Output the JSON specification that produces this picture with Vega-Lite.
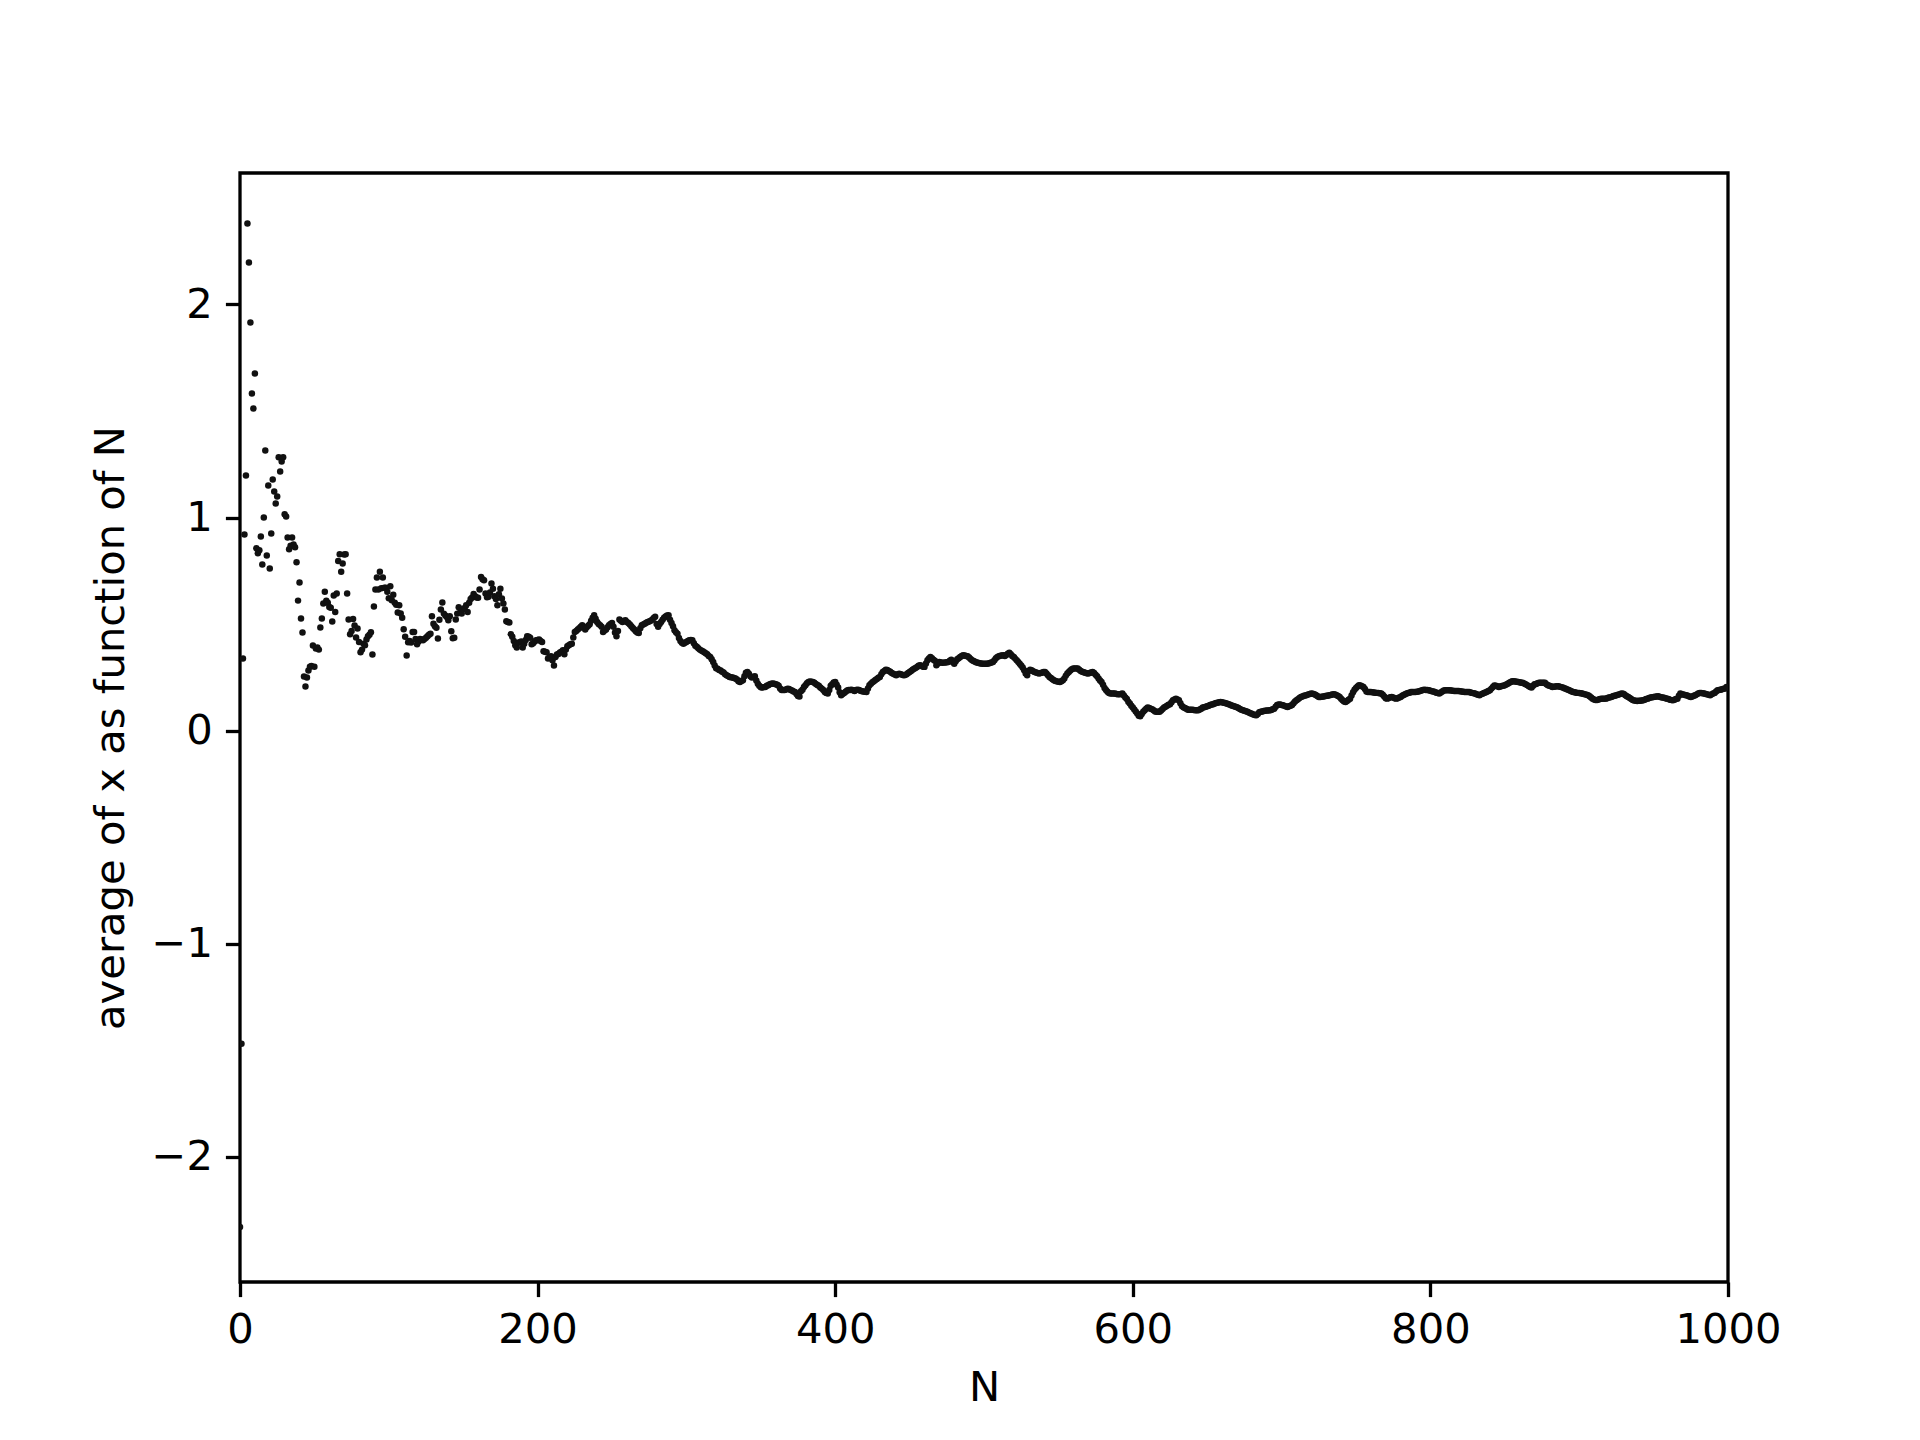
{
  "$schema": "https://vega.github.io/schema/vega-lite/v6.json",
  "width": 1488,
  "height": 1109,
  "autosize": {"type": "none"},
  "padding": {"left": 240, "top": 173, "right": 192, "bottom": 158},
  "background": "white",
  "config": {
    "font": "DejaVu Sans",
    "view": {"stroke": "black", "strokeWidth": 3.3},
    "axis": {
      "grid": false, "domain": false,
      "tickColor": "black", "tickWidth": 3.3, "tickSize": 14.6,
      "labelFont": "DejaVu Sans", "labelFontSize": 41.7, "labelColor": "black",
      "labelPadding": 13, "labelOverlap": false, "labelBound": false, "labelFlush": false,
      "titleFont": "DejaVu Sans", "titleFontSize": 41.7, "titleFontWeight": "normal", "titleColor": "black"
    }
  },
  "data": {"values": [
    {"N":0,"y":-2.33},{"N":1,"y":-1.47},{"N":2,"y":0.338},{"N":3,"y":0.92},{"N":4,"y":1.197},{"N":5,"y":2.38},{"N":6,"y":2.197},{"N":7,"y":1.915},{"N":8,"y":1.582},{"N":9,"y":1.512},
    {"N":10,"y":1.676},{"N":11,"y":0.856},{"N":12,"y":0.832},{"N":13,"y":0.846},{"N":14,"y":0.911},{"N":15,"y":0.779},{"N":16,"y":1.0},{"N":17,"y":1.315},{"N":18,"y":0.822},{"N":19,"y":1.15},
    {"N":20,"y":0.761},{"N":21,"y":0.925},{"N":22,"y":1.178},{"N":23,"y":1.122},{"N":24,"y":1.066},{"N":25,"y":1.099},{"N":26,"y":1.283},{"N":27,"y":1.216},{"N":28,"y":1.263},{"N":29,"y":1.283},
    {"N":30,"y":1.015},{"N":31,"y":1.005},{"N":32,"y":0.906},{"N":33,"y":0.851},{"N":34,"y":0.868},{"N":35,"y":0.906},{"N":36,"y":0.874},{"N":37,"y":0.86},{"N":38,"y":0.79},{"N":39,"y":0.61},
    {"N":40,"y":0.695},{"N":41,"y":0.526},{"N":42,"y":0.46},{"N":43,"y":0.254},{"N":44,"y":0.207},{"N":45,"y":0.249},{"N":46,"y":0.282},{"N":47,"y":0.3},{"N":48,"y":0.303},{"N":49,"y":0.399},
    {"N":50,"y":0.3},{"N":51,"y":0.385},{"N":52,"y":0.39},{"N":53,"y":0.38},{"N":54,"y":0.484},{"N":55,"y":0.526},{"N":56,"y":0.596},{"N":57,"y":0.652},{"N":58,"y":0.61},{"N":59,"y":0.6},
    {"N":60,"y":0.58},{"N":61,"y":0.577},{"N":62,"y":0.512},{"N":63,"y":0.634},{"N":64,"y":0.557},{"N":65,"y":0.643},{"N":66,"y":0.796},{"N":67,"y":0.828},{"N":68,"y":0.746},{"N":69,"y":0.784},
    {"N":70,"y":0.826},{"N":71,"y":0.828},{"N":72,"y":0.643},{"N":73,"y":0.521},{"N":74,"y":0.452},{"N":75,"y":0.468},{"N":76,"y":0.524},{"N":77,"y":0.493},{"N":78,"y":0.437},{"N":79,"y":0.479},
    {"N":80,"y":0.416},{"N":81,"y":0.368},{"N":82,"y":0.38},{"N":83,"y":0.408},{"N":84,"y":0.4},{"N":85,"y":0.427},{"N":86,"y":0.443},{"N":87,"y":0.45},{"N":88,"y":0.462},{"N":89,"y":0.357},
    {"N":90,"y":0.582},{"N":91,"y":0.662},{"N":92,"y":0.718},{"N":93,"y":0.662},{"N":94,"y":0.746},{"N":95,"y":0.668},{"N":96,"y":0.718},{"N":97,"y":0.67},{"N":98,"y":0.671},{"N":99,"y":0.652},
    {"N":100,"y":0.621},{"N":101,"y":0.677},{"N":102,"y":0.612},{"N":103,"y":0.638},{"N":104,"y":0.6},{"N":105,"y":0.591},{"N":106,"y":0.554},{"N":107,"y":0.588},{"N":108,"y":0.55},{"N":109,"y":0.53},
    {"N":110,"y":0.476},{"N":111,"y":0.44},{"N":112,"y":0.352},{"N":113,"y":0.415},{"N":114,"y":0.42},{"N":115,"y":0.413},{"N":116,"y":0.463},{"N":117,"y":0.463},{"N":118,"y":0.43},{"N":119,"y":0.405},
    {"N":120,"y":0.418},{"N":121,"y":0.43},{"N":122,"y":0.428},{"N":123,"y":0.424},{"N":124,"y":0.43},{"N":125,"y":0.436},{"N":126,"y":0.443},{"N":127,"y":0.45},{"N":128,"y":0.455},{"N":129,"y":0.537},
    {"N":130,"y":0.502},{"N":131,"y":0.49},{"N":132,"y":0.483},{"N":133,"y":0.432},{"N":134,"y":0.52},{"N":135,"y":0.568},{"N":136,"y":0.601},{"N":137,"y":0.549},{"N":138,"y":0.54},{"N":139,"y":0.533},
    {"N":140,"y":0.518},{"N":141,"y":0.537},{"N":142,"y":0.466},{"N":143,"y":0.433},{"N":144,"y":0.436},{"N":145,"y":0.521},{"N":146,"y":0.549},{"N":147,"y":0.579},{"N":148,"y":0.554},{"N":149,"y":0.549},
    {"N":150,"y":0.57},{"N":151,"y":0.575},{"N":152,"y":0.588},{"N":153,"y":0.557},{"N":154,"y":0.6},{"N":155,"y":0.618},{"N":156,"y":0.625},{"N":157,"y":0.641},{"N":158,"y":0.63},{"N":159,"y":0.625},
    {"N":160,"y":0.623},{"N":161,"y":0.662},{"N":162,"y":0.721},{"N":163,"y":0.71},{"N":164,"y":0.706},{"N":165,"y":0.643},{"N":166,"y":0.626},{"N":167,"y":0.628},{"N":168,"y":0.648},{"N":169,"y":0.69},
    {"N":170,"y":0.666},{"N":171,"y":0.63},{"N":172,"y":0.618},{"N":173,"y":0.588},{"N":174,"y":0.64},{"N":175,"y":0.666},{"N":176,"y":0.62},{"N":177,"y":0.596},{"N":178,"y":0.568},{"N":179,"y":0.513},
    {"N":180,"y":0.51},{"N":181,"y":0.507},{"N":182,"y":0.452},{"N":183,"y":0.44},{"N":184,"y":0.42},{"N":185,"y":0.4},{"N":186,"y":0.39},{"N":187,"y":0.412},{"N":188,"y":0.415},{"N":189,"y":0.418},
    {"N":190,"y":0.39},{"N":191,"y":0.408},{"N":192,"y":0.425},{"N":193,"y":0.443},{"N":194,"y":0.44},{"N":195,"y":0.436},{"N":196,"y":0.405},{"N":197,"y":0.41},{"N":198,"y":0.418},{"N":199,"y":0.424},
    {"N":200,"y":0.425},{"N":201,"y":0.427},{"N":202,"y":0.42},{"N":203,"y":0.416},{"N":204,"y":0.372},{"N":205,"y":0.37},{"N":206,"y":0.368},{"N":207,"y":0.338},{"N":208,"y":0.343},{"N":209,"y":0.349},
    {"N":210,"y":0.33},{"N":211,"y":0.305},{"N":212,"y":0.345},{"N":213,"y":0.357},{"N":214,"y":0.36},{"N":215,"y":0.366},{"N":216,"y":0.37},{"N":217,"y":0.377},{"N":218,"y":0.358},{"N":219,"y":0.38},
    {"N":220,"y":0.396},{"N":221,"y":0.4},{"N":222,"y":0.405},{"N":223,"y":0.408},{"N":224,"y":0.437},{"N":225,"y":0.463},{"N":226,"y":0.468},{"N":227,"y":0.474},{"N":228,"y":0.48},{"N":229,"y":0.487},
    {"N":230,"y":0.494},{"N":231,"y":0.484},{"N":232,"y":0.474},{"N":233,"y":0.485},{"N":234,"y":0.492},{"N":235,"y":0.499},{"N":236,"y":0.515},{"N":237,"y":0.53},{"N":238,"y":0.541},{"N":239,"y":0.525},
    {"N":240,"y":0.51},{"N":241,"y":0.5},{"N":242,"y":0.495},{"N":243,"y":0.487},{"N":244,"y":0.463},{"N":245,"y":0.47},{"N":246,"y":0.474},{"N":247,"y":0.485},{"N":248,"y":0.494},{"N":249,"y":0.5},
    {"N":250,"y":0.505},{"N":251,"y":0.487},{"N":252,"y":0.46},{"N":253,"y":0.443},{"N":254,"y":0.468},{"N":255,"y":0.521},{"N":256,"y":0.515},{"N":257,"y":0.51},{"N":258,"y":0.514},{"N":259,"y":0.518},
    {"N":260,"y":0.51},{"N":261,"y":0.505},{"N":262,"y":0.498},{"N":263,"y":0.49},{"N":264,"y":0.482},{"N":265,"y":0.474},{"N":266,"y":0.466},{"N":267,"y":0.46},{"N":268,"y":0.458},{"N":269,"y":0.48},
    {"N":270,"y":0.494},{"N":271,"y":0.498},{"N":272,"y":0.502},{"N":273,"y":0.506},{"N":274,"y":0.51},{"N":275,"y":0.512},{"N":276,"y":0.515},{"N":277,"y":0.52},{"N":278,"y":0.528},{"N":279,"y":0.534},
    {"N":280,"y":0.5},{"N":281,"y":0.487},{"N":282,"y":0.5},{"N":283,"y":0.51},{"N":284,"y":0.52},{"N":285,"y":0.53},{"N":286,"y":0.536},{"N":287,"y":0.54},{"N":288,"y":0.541},{"N":289,"y":0.52},
    {"N":290,"y":0.505},{"N":291,"y":0.49},{"N":292,"y":0.471},{"N":293,"y":0.462},{"N":294,"y":0.455},{"N":295,"y":0.435},{"N":296,"y":0.42},{"N":297,"y":0.412},{"N":298,"y":0.408},{"N":299,"y":0.412},
    {"N":300,"y":0.416},{"N":301,"y":0.42},{"N":302,"y":0.424},{"N":303,"y":0.425},{"N":304,"y":0.424},{"N":305,"y":0.41},{"N":306,"y":0.398},{"N":307,"y":0.393},{"N":308,"y":0.386},{"N":309,"y":0.38},
    {"N":310,"y":0.376},{"N":311,"y":0.372},{"N":312,"y":0.368},{"N":313,"y":0.363},{"N":314,"y":0.358},{"N":315,"y":0.35},{"N":316,"y":0.346},{"N":317,"y":0.335},{"N":318,"y":0.322},{"N":319,"y":0.305},
    {"N":320,"y":0.293},{"N":321,"y":0.29},{"N":322,"y":0.284},{"N":323,"y":0.282},{"N":324,"y":0.276},{"N":325,"y":0.273},{"N":326,"y":0.265},{"N":327,"y":0.26},{"N":328,"y":0.256},{"N":329,"y":0.252},
    {"N":330,"y":0.25},{"N":331,"y":0.249},{"N":332,"y":0.247},{"N":333,"y":0.245},{"N":334,"y":0.24},{"N":335,"y":0.232},{"N":336,"y":0.228},{"N":337,"y":0.233},{"N":338,"y":0.236},{"N":339,"y":0.255},
    {"N":340,"y":0.272},{"N":341,"y":0.275},{"N":342,"y":0.267},{"N":343,"y":0.255},{"N":344,"y":0.249},{"N":345,"y":0.252},{"N":346,"y":0.255},{"N":347,"y":0.235},{"N":348,"y":0.22},{"N":349,"y":0.21},
    {"N":350,"y":0.203},{"N":351,"y":0.202},{"N":352,"y":0.204},{"N":353,"y":0.205},{"N":354,"y":0.21},{"N":355,"y":0.213},{"N":356,"y":0.217},{"N":357,"y":0.22},{"N":358,"y":0.221},{"N":359,"y":0.22},
    {"N":360,"y":0.218},{"N":361,"y":0.215},{"N":362,"y":0.21},{"N":363,"y":0.198},{"N":364,"y":0.19},{"N":365,"y":0.19},{"N":366,"y":0.19},{"N":367,"y":0.193},{"N":368,"y":0.197},{"N":369,"y":0.195},
    {"N":370,"y":0.19},{"N":371,"y":0.188},{"N":372,"y":0.184},{"N":373,"y":0.181},{"N":374,"y":0.172},{"N":375,"y":0.162},{"N":376,"y":0.16},{"N":377,"y":0.185},{"N":378,"y":0.192},{"N":379,"y":0.205},
    {"N":380,"y":0.213},{"N":381,"y":0.222},{"N":382,"y":0.228},{"N":383,"y":0.23},{"N":384,"y":0.229},{"N":385,"y":0.228},{"N":386,"y":0.224},{"N":387,"y":0.219},{"N":388,"y":0.214},{"N":389,"y":0.21},
    {"N":390,"y":0.202},{"N":391,"y":0.197},{"N":392,"y":0.19},{"N":393,"y":0.181},{"N":394,"y":0.177},{"N":395,"y":0.174},{"N":396,"y":0.19},{"N":397,"y":0.21},{"N":398,"y":0.218},{"N":399,"y":0.226},
    {"N":400,"y":0.228},{"N":401,"y":0.215},{"N":402,"y":0.202},{"N":403,"y":0.18},{"N":404,"y":0.166},{"N":405,"y":0.172},{"N":406,"y":0.177},{"N":407,"y":0.182},{"N":408,"y":0.188},{"N":409,"y":0.19},
    {"N":410,"y":0.191},{"N":411,"y":0.192},{"N":412,"y":0.189},{"N":413,"y":0.186},{"N":414,"y":0.19},{"N":415,"y":0.192},{"N":416,"y":0.19},{"N":417,"y":0.187},{"N":418,"y":0.185},{"N":419,"y":0.184},
    {"N":420,"y":0.182},{"N":421,"y":0.181},{"N":422,"y":0.198},{"N":423,"y":0.213},{"N":424,"y":0.22},{"N":425,"y":0.227},{"N":426,"y":0.232},{"N":427,"y":0.237},{"N":428,"y":0.242},{"N":429,"y":0.248},
    {"N":430,"y":0.252},{"N":431,"y":0.265},{"N":432,"y":0.275},{"N":433,"y":0.28},{"N":434,"y":0.286},{"N":435,"y":0.284},{"N":436,"y":0.28},{"N":437,"y":0.276},{"N":438,"y":0.27},{"N":439,"y":0.267},
    {"N":440,"y":0.263},{"N":441,"y":0.26},{"N":442,"y":0.264},{"N":443,"y":0.267},{"N":444,"y":0.265},{"N":445,"y":0.262},{"N":446,"y":0.26},{"N":447,"y":0.261},{"N":448,"y":0.265},{"N":449,"y":0.27},
    {"N":450,"y":0.275},{"N":451,"y":0.28},{"N":452,"y":0.286},{"N":453,"y":0.29},{"N":454,"y":0.294},{"N":455,"y":0.299},{"N":456,"y":0.304},{"N":457,"y":0.307},{"N":458,"y":0.304},{"N":459,"y":0.3},
    {"N":460,"y":0.299},{"N":461,"y":0.315},{"N":462,"y":0.33},{"N":463,"y":0.338},{"N":464,"y":0.346},{"N":465,"y":0.34},{"N":466,"y":0.333},{"N":467,"y":0.328},{"N":468,"y":0.307},{"N":469,"y":0.315},
    {"N":470,"y":0.322},{"N":471,"y":0.32},{"N":472,"y":0.318},{"N":473,"y":0.319},{"N":474,"y":0.32},{"N":475,"y":0.321},{"N":476,"y":0.322},{"N":477,"y":0.328},{"N":478,"y":0.333},{"N":479,"y":0.322},
    {"N":480,"y":0.314},{"N":481,"y":0.325},{"N":482,"y":0.335},{"N":483,"y":0.34},{"N":484,"y":0.345},{"N":485,"y":0.35},{"N":486,"y":0.354},{"N":487,"y":0.352},{"N":488,"y":0.35},{"N":489,"y":0.349},
    {"N":490,"y":0.343},{"N":491,"y":0.336},{"N":492,"y":0.33},{"N":493,"y":0.327},{"N":494,"y":0.323},{"N":495,"y":0.32},{"N":496,"y":0.318},{"N":497,"y":0.316},{"N":498,"y":0.315},{"N":499,"y":0.314},
    {"N":500,"y":0.314},{"N":501,"y":0.314},{"N":502,"y":0.314},{"N":503,"y":0.315},{"N":504,"y":0.317},{"N":505,"y":0.32},{"N":506,"y":0.322},{"N":507,"y":0.33},{"N":508,"y":0.339},{"N":509,"y":0.346},
    {"N":510,"y":0.349},{"N":511,"y":0.351},{"N":512,"y":0.353},{"N":513,"y":0.354},{"N":514,"y":0.35},{"N":515,"y":0.355},{"N":516,"y":0.361},{"N":517,"y":0.365},{"N":518,"y":0.358},{"N":519,"y":0.35},
    {"N":520,"y":0.345},{"N":521,"y":0.338},{"N":522,"y":0.33},{"N":523,"y":0.322},{"N":524,"y":0.314},{"N":525,"y":0.305},{"N":526,"y":0.296},{"N":527,"y":0.283},{"N":528,"y":0.268},{"N":529,"y":0.26},
    {"N":530,"y":0.28},{"N":531,"y":0.286},{"N":532,"y":0.283},{"N":533,"y":0.279},{"N":534,"y":0.275},{"N":535,"y":0.273},{"N":536,"y":0.27},{"N":537,"y":0.268},{"N":538,"y":0.27},{"N":539,"y":0.272},
    {"N":540,"y":0.275},{"N":541,"y":0.275},{"N":542,"y":0.268},{"N":543,"y":0.26},{"N":544,"y":0.252},{"N":545,"y":0.247},{"N":546,"y":0.241},{"N":547,"y":0.236},{"N":548,"y":0.233},{"N":549,"y":0.231},
    {"N":550,"y":0.229},{"N":551,"y":0.228},{"N":552,"y":0.232},{"N":553,"y":0.236},{"N":554,"y":0.245},{"N":555,"y":0.258},{"N":556,"y":0.268},{"N":557,"y":0.275},{"N":558,"y":0.282},{"N":559,"y":0.288},
    {"N":560,"y":0.291},{"N":561,"y":0.292},{"N":562,"y":0.291},{"N":563,"y":0.291},{"N":564,"y":0.286},{"N":565,"y":0.28},{"N":566,"y":0.276},{"N":567,"y":0.274},{"N":568,"y":0.271},{"N":569,"y":0.269},
    {"N":570,"y":0.268},{"N":571,"y":0.27},{"N":572,"y":0.273},{"N":573,"y":0.275},{"N":574,"y":0.27},{"N":575,"y":0.262},{"N":576,"y":0.255},{"N":577,"y":0.245},{"N":578,"y":0.235},{"N":579,"y":0.228},
    {"N":580,"y":0.215},{"N":581,"y":0.2},{"N":582,"y":0.19},{"N":583,"y":0.182},{"N":584,"y":0.176},{"N":585,"y":0.174},{"N":586,"y":0.174},{"N":587,"y":0.174},{"N":588,"y":0.174},{"N":589,"y":0.172},
    {"N":590,"y":0.171},{"N":591,"y":0.171},{"N":592,"y":0.172},{"N":593,"y":0.174},{"N":594,"y":0.165},{"N":595,"y":0.155},{"N":596,"y":0.148},{"N":597,"y":0.135},{"N":598,"y":0.127},{"N":599,"y":0.117},
    {"N":600,"y":0.108},{"N":601,"y":0.099},{"N":602,"y":0.09},{"N":603,"y":0.08},{"N":604,"y":0.07},{"N":605,"y":0.067},{"N":606,"y":0.078},{"N":607,"y":0.088},{"N":608,"y":0.095},{"N":609,"y":0.102},
    {"N":610,"y":0.108},{"N":611,"y":0.106},{"N":612,"y":0.103},{"N":613,"y":0.1},{"N":614,"y":0.095},{"N":615,"y":0.09},{"N":616,"y":0.088},{"N":617,"y":0.088},{"N":618,"y":0.088},{"N":619,"y":0.094},
    {"N":620,"y":0.101},{"N":621,"y":0.108},{"N":622,"y":0.112},{"N":623,"y":0.117},{"N":624,"y":0.121},{"N":625,"y":0.124},{"N":626,"y":0.133},{"N":627,"y":0.142},{"N":628,"y":0.146},{"N":629,"y":0.15},
    {"N":630,"y":0.146},{"N":631,"y":0.142},{"N":632,"y":0.128},{"N":633,"y":0.115},{"N":634,"y":0.11},{"N":635,"y":0.106},{"N":636,"y":0.102},{"N":637,"y":0.098},{"N":638,"y":0.098},{"N":639,"y":0.098},
    {"N":640,"y":0.098},{"N":641,"y":0.097},{"N":642,"y":0.096},{"N":643,"y":0.095},{"N":644,"y":0.095},{"N":645,"y":0.099},{"N":646,"y":0.103},{"N":647,"y":0.108},{"N":648,"y":0.11},{"N":649,"y":0.112},
    {"N":650,"y":0.114},{"N":651,"y":0.117},{"N":652,"y":0.12},{"N":653,"y":0.122},{"N":654,"y":0.124},{"N":655,"y":0.127},{"N":656,"y":0.129},{"N":657,"y":0.131},{"N":658,"y":0.133},{"N":659,"y":0.134},
    {"N":660,"y":0.133},{"N":661,"y":0.131},{"N":662,"y":0.129},{"N":663,"y":0.127},{"N":664,"y":0.125},{"N":665,"y":0.122},{"N":666,"y":0.119},{"N":667,"y":0.117},{"N":668,"y":0.114},{"N":669,"y":0.112},
    {"N":670,"y":0.11},{"N":671,"y":0.106},{"N":672,"y":0.101},{"N":673,"y":0.098},{"N":674,"y":0.096},{"N":675,"y":0.093},{"N":676,"y":0.091},{"N":677,"y":0.088},{"N":678,"y":0.085},{"N":679,"y":0.081},
    {"N":680,"y":0.079},{"N":681,"y":0.076},{"N":682,"y":0.073},{"N":683,"y":0.072},{"N":684,"y":0.078},{"N":685,"y":0.086},{"N":686,"y":0.088},{"N":687,"y":0.09},{"N":688,"y":0.092},{"N":689,"y":0.093},
    {"N":690,"y":0.094},{"N":691,"y":0.094},{"N":692,"y":0.095},{"N":693,"y":0.097},{"N":694,"y":0.1},{"N":695,"y":0.103},{"N":696,"y":0.112},{"N":697,"y":0.12},{"N":698,"y":0.123},{"N":699,"y":0.122},
    {"N":700,"y":0.12},{"N":701,"y":0.119},{"N":702,"y":0.116},{"N":703,"y":0.113},{"N":704,"y":0.111},{"N":705,"y":0.114},{"N":706,"y":0.117},{"N":707,"y":0.12},{"N":708,"y":0.128},{"N":709,"y":0.136},
    {"N":710,"y":0.142},{"N":711,"y":0.147},{"N":712,"y":0.153},{"N":713,"y":0.158},{"N":714,"y":0.16},{"N":715,"y":0.163},{"N":716,"y":0.165},{"N":717,"y":0.167},{"N":718,"y":0.17},{"N":719,"y":0.172},
    {"N":720,"y":0.174},{"N":721,"y":0.173},{"N":722,"y":0.171},{"N":723,"y":0.167},{"N":724,"y":0.162},{"N":725,"y":0.158},{"N":726,"y":0.158},{"N":727,"y":0.159},{"N":728,"y":0.16},{"N":729,"y":0.161},
    {"N":730,"y":0.163},{"N":731,"y":0.164},{"N":732,"y":0.166},{"N":733,"y":0.167},{"N":734,"y":0.169},{"N":735,"y":0.171},{"N":736,"y":0.17},{"N":737,"y":0.166},{"N":738,"y":0.162},{"N":739,"y":0.158},
    {"N":740,"y":0.15},{"N":741,"y":0.142},{"N":742,"y":0.136},{"N":743,"y":0.134},{"N":744,"y":0.139},{"N":745,"y":0.145},{"N":746,"y":0.15},{"N":747,"y":0.165},{"N":748,"y":0.18},{"N":749,"y":0.192},
    {"N":750,"y":0.2},{"N":751,"y":0.207},{"N":752,"y":0.213},{"N":753,"y":0.212},{"N":754,"y":0.208},{"N":755,"y":0.205},{"N":756,"y":0.195},{"N":757,"y":0.183},{"N":758,"y":0.181},{"N":759,"y":0.181},
    {"N":760,"y":0.181},{"N":761,"y":0.18},{"N":762,"y":0.179},{"N":763,"y":0.178},{"N":764,"y":0.177},{"N":765,"y":0.176},{"N":766,"y":0.175},{"N":767,"y":0.174},{"N":768,"y":0.168},{"N":769,"y":0.16},
    {"N":770,"y":0.152},{"N":771,"y":0.15},{"N":772,"y":0.153},{"N":773,"y":0.156},{"N":774,"y":0.158},{"N":775,"y":0.155},{"N":776,"y":0.152},{"N":777,"y":0.15},{"N":778,"y":0.152},{"N":779,"y":0.155},
    {"N":780,"y":0.158},{"N":781,"y":0.163},{"N":782,"y":0.167},{"N":783,"y":0.171},{"N":784,"y":0.174},{"N":785,"y":0.176},{"N":786,"y":0.178},{"N":787,"y":0.181},{"N":788,"y":0.181},{"N":789,"y":0.181},
    {"N":790,"y":0.181},{"N":791,"y":0.182},{"N":792,"y":0.184},{"N":793,"y":0.186},{"N":794,"y":0.188},{"N":795,"y":0.19},{"N":796,"y":0.192},{"N":797,"y":0.191},{"N":798,"y":0.19},{"N":799,"y":0.189},
    {"N":800,"y":0.187},{"N":801,"y":0.185},{"N":802,"y":0.183},{"N":803,"y":0.181},{"N":804,"y":0.178},{"N":805,"y":0.176},{"N":806,"y":0.174},{"N":807,"y":0.179},{"N":808,"y":0.184},{"N":809,"y":0.188},
    {"N":810,"y":0.189},{"N":811,"y":0.189},{"N":812,"y":0.189},{"N":813,"y":0.189},{"N":814,"y":0.188},{"N":815,"y":0.187},{"N":816,"y":0.186},{"N":817,"y":0.186},{"N":818,"y":0.186},{"N":819,"y":0.186},
    {"N":820,"y":0.185},{"N":821,"y":0.184},{"N":822,"y":0.182},{"N":823,"y":0.181},{"N":824,"y":0.181},{"N":825,"y":0.181},{"N":826,"y":0.181},{"N":827,"y":0.179},{"N":828,"y":0.177},{"N":829,"y":0.175},
    {"N":830,"y":0.174},{"N":831,"y":0.171},{"N":832,"y":0.168},{"N":833,"y":0.166},{"N":834,"y":0.17},{"N":835,"y":0.173},{"N":836,"y":0.176},{"N":837,"y":0.179},{"N":838,"y":0.182},{"N":839,"y":0.186},
    {"N":840,"y":0.189},{"N":841,"y":0.197},{"N":842,"y":0.205},{"N":843,"y":0.212},{"N":844,"y":0.211},{"N":845,"y":0.208},{"N":846,"y":0.205},{"N":847,"y":0.207},{"N":848,"y":0.209},{"N":849,"y":0.211},
    {"N":850,"y":0.213},{"N":851,"y":0.216},{"N":852,"y":0.22},{"N":853,"y":0.224},{"N":854,"y":0.228},{"N":855,"y":0.232},{"N":856,"y":0.232},{"N":857,"y":0.23},{"N":858,"y":0.229},{"N":859,"y":0.228},
    {"N":860,"y":0.227},{"N":861,"y":0.225},{"N":862,"y":0.224},{"N":863,"y":0.221},{"N":864,"y":0.217},{"N":865,"y":0.213},{"N":866,"y":0.209},{"N":867,"y":0.205},{"N":868,"y":0.202},{"N":869,"y":0.21},
    {"N":870,"y":0.217},{"N":871,"y":0.219},{"N":872,"y":0.222},{"N":873,"y":0.224},{"N":874,"y":0.224},{"N":875,"y":0.224},{"N":876,"y":0.224},{"N":877,"y":0.224},{"N":878,"y":0.218},{"N":879,"y":0.213},
    {"N":880,"y":0.21},{"N":881,"y":0.208},{"N":882,"y":0.205},{"N":883,"y":0.206},{"N":884,"y":0.207},{"N":885,"y":0.208},{"N":886,"y":0.208},{"N":887,"y":0.206},{"N":888,"y":0.204},{"N":889,"y":0.202},
    {"N":890,"y":0.199},{"N":891,"y":0.196},{"N":892,"y":0.193},{"N":893,"y":0.19},{"N":894,"y":0.187},{"N":895,"y":0.184},{"N":896,"y":0.181},{"N":897,"y":0.18},{"N":898,"y":0.178},{"N":899,"y":0.177},
    {"N":900,"y":0.176},{"N":901,"y":0.175},{"N":902,"y":0.174},{"N":903,"y":0.172},{"N":904,"y":0.17},{"N":905,"y":0.168},{"N":906,"y":0.166},{"N":907,"y":0.161},{"N":908,"y":0.155},{"N":909,"y":0.15},
    {"N":910,"y":0.146},{"N":911,"y":0.143},{"N":912,"y":0.143},{"N":913,"y":0.146},{"N":914,"y":0.148},{"N":915,"y":0.15},{"N":916,"y":0.15},{"N":917,"y":0.15},{"N":918,"y":0.15},{"N":919,"y":0.153},
    {"N":920,"y":0.155},{"N":921,"y":0.157},{"N":922,"y":0.159},{"N":923,"y":0.162},{"N":924,"y":0.164},{"N":925,"y":0.166},{"N":926,"y":0.168},{"N":927,"y":0.17},{"N":928,"y":0.173},{"N":929,"y":0.174},
    {"N":930,"y":0.172},{"N":931,"y":0.166},{"N":932,"y":0.161},{"N":933,"y":0.158},{"N":934,"y":0.153},{"N":935,"y":0.148},{"N":936,"y":0.143},{"N":937,"y":0.141},{"N":938,"y":0.14},{"N":939,"y":0.139},
    {"N":940,"y":0.14},{"N":941,"y":0.14},{"N":942,"y":0.141},{"N":943,"y":0.142},{"N":944,"y":0.145},{"N":945,"y":0.148},{"N":946,"y":0.15},{"N":947,"y":0.153},{"N":948,"y":0.155},{"N":949,"y":0.157},
    {"N":950,"y":0.158},{"N":951,"y":0.159},{"N":952,"y":0.16},{"N":953,"y":0.161},{"N":954,"y":0.159},{"N":955,"y":0.157},{"N":956,"y":0.155},{"N":957,"y":0.154},{"N":958,"y":0.152},{"N":959,"y":0.15},
    {"N":960,"y":0.148},{"N":961,"y":0.145},{"N":962,"y":0.143},{"N":963,"y":0.142},{"N":964,"y":0.145},{"N":965,"y":0.148},{"N":966,"y":0.15},{"N":967,"y":0.163},{"N":968,"y":0.174},{"N":969,"y":0.171},
    {"N":970,"y":0.169},{"N":971,"y":0.167},{"N":972,"y":0.166},{"N":973,"y":0.163},{"N":974,"y":0.16},{"N":975,"y":0.158},{"N":976,"y":0.16},{"N":977,"y":0.163},{"N":978,"y":0.166},{"N":979,"y":0.17},
    {"N":980,"y":0.174},{"N":981,"y":0.177},{"N":982,"y":0.176},{"N":983,"y":0.175},{"N":984,"y":0.174},{"N":985,"y":0.172},{"N":986,"y":0.17},{"N":987,"y":0.168},{"N":988,"y":0.166},{"N":989,"y":0.17},
    {"N":990,"y":0.174},{"N":991,"y":0.177},{"N":992,"y":0.183},{"N":993,"y":0.189},{"N":994,"y":0.19},{"N":995,"y":0.192},{"N":996,"y":0.194},{"N":997,"y":0.196},{"N":998,"y":0.197},{"N":999,"y":0.205}
  ]},
  "mark": {"type": "point", "filled": true, "size": 42, "color": "#111111", "opacity": 1, "clip": true},
  "encoding": {
    "x": {
      "field": "N", "type": "quantitative",
      "scale": {"domain": [0, 1000], "nice": false, "zero": false},
      "axis": {"values": [0, 200, 400, 600, 800, 1000], "format": "d", "title": "N", "titlePadding": 16}
    },
    "y": {
      "field": "y", "type": "quantitative",
      "scale": {"domain": [-2.588, 2.617], "nice": false, "zero": false},
      "axis": {"values": [-2, -1, 0, 1, 2], "format": "d", "title": "average of x as function of N", "titlePadding": 18}
    }
  }
}
